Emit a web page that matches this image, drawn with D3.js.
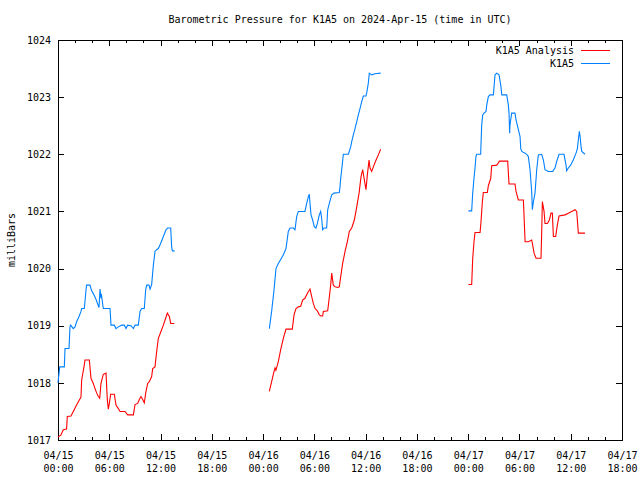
<!DOCTYPE html>
<html><head><meta charset="utf-8">
<script src="https://cdn.jsdelivr.net/npm/d3@7"></script>
<style>
html,body{margin:0;padding:0;background:#fff;}
svg text{font-family:"DejaVu Sans Mono","Liberation Mono",monospace;font-size:10px;fill:#000;}
</style></head>
<body><svg id="c" width="640" height="480"></svg>
<script>
const titleText = "Barometric Pressure for K1A5 on 2024-Apr-15 (time in UTC)";
const yLabel = "milliBars";
const seriesNames = ["K1A5 Analysis", "K1A5"];
const seriesColors = ["#ff0000", "#0080ff"];
const yTicks = [1017,1018,1019,1020,1021,1022,1023,1024];
const startTime = Date.UTC(2024,3,15,0,0);
const endTime = Date.UTC(2024,3,17,18,0);

// [hours since 2024-04-15 00:00 UTC, mb]
const analysis1 = [[0,1017.05],[0.35,1017.09],[0.62,1017.18],[1.0,1017.19],[1.09,1017.41],[1.52,1017.42],[1.79,1017.5],[2.07,1017.58],[2.38,1017.67],[2.69,1017.75],[2.77,1018.05],[3.04,1018.28],[3.16,1018.4],[3.67,1018.4],[3.86,1018.08],[4.13,1017.99],[4.33,1017.9],[4.53,1017.82],[4.72,1017.76],[4.88,1017.73],[5.03,1017.99],[5.3,1018.15],[5.62,1018.17],[5.77,1017.71],[5.89,1017.54],[6.01,1017.64],[6.16,1017.8],[6.59,1017.8],[6.79,1017.61],[7.06,1017.55],[7.26,1017.5],[7.84,1017.5],[8.15,1017.44],[8.82,1017.44],[9.01,1017.62],[9.32,1017.64],[9.52,1017.71],[9.71,1017.76],[9.91,1017.71],[10.1,1017.65],[10.26,1017.82],[10.49,1017.99],[10.69,1018.02],[10.96,1018.11],[11.08,1018.25],[11.35,1018.28],[11.55,1018.55],[11.74,1018.78],[12.05,1018.9],[12.33,1019.01],[12.6,1019.13],[12.79,1019.22],[13.03,1019.16],[13.19,1019.04],[13.61,1019.04]];
const analysis2 = [[24.73,1017.85],[25.0,1018.02],[25.28,1018.2],[25.4,1018.26],[25.5,1018.22],[25.78,1018.37],[26.06,1018.58],[26.37,1018.78],[26.68,1018.94],[27.42,1018.94],[27.62,1019.19],[27.85,1019.3],[28.12,1019.33],[28.4,1019.34],[28.63,1019.45],[28.9,1019.48],[29.1,1019.54],[29.3,1019.6],[29.49,1019.64],[29.69,1019.51],[29.88,1019.39],[30.08,1019.3],[30.35,1019.26],[30.58,1019.19],[30.78,1019.17],[30.97,1019.17],[31.05,1019.25],[31.56,1019.26],[31.71,1019.45],[31.91,1019.71],[32.03,1019.92],[32.22,1019.71],[32.42,1019.68],[32.73,1019.67],[32.92,1019.68],[33.08,1019.86],[33.31,1020.09],[33.59,1020.3],[33.86,1020.47],[34.09,1020.65],[34.37,1020.71],[34.68,1020.85],[34.96,1021.08],[35.23,1021.32],[35.46,1021.61],[35.66,1021.73],[35.85,1021.55],[36.04,1021.38],[36.2,1021.64],[36.4,1021.9],[36.51,1021.76],[36.71,1021.7],[36.9,1021.78],[37.22,1021.9],[37.49,1021.99],[37.76,1022.09]];
const analysis3 = [[48.02,1019.72],[48.41,1019.72],[48.53,1020.18],[48.68,1020.47],[48.8,1020.63],[49.39,1020.63],[49.5,1020.82],[49.66,1021.17],[49.77,1021.33],[50.24,1021.33],[50.36,1021.45],[50.64,1021.58],[50.75,1021.8],[51.34,1021.81],[51.53,1021.85],[51.65,1021.88],[52.62,1021.88],[52.78,1021.48],[53.48,1021.48],[53.6,1021.35],[53.87,1021.2],[54.46,1021.2],[54.66,1020.47],[55.05,1020.47],[55.43,1020.5],[55.55,1020.41],[55.71,1020.27],[55.94,1020.18],[56.52,1020.18],[56.6,1020.62],[56.68,1021.17],[56.88,1021.0],[56.99,1020.79],[57.27,1020.79],[57.5,1020.85],[57.69,1020.97],[57.85,1020.97],[57.97,1020.56],[58.24,1020.56],[58.43,1020.76],[58.63,1020.92],[59.33,1020.94],[59.72,1020.97],[60.11,1021.0],[60.5,1021.03],[60.7,1021.0],[60.89,1020.62],[61.67,1020.62]];
const station1 = [[0,1018.0],[0.2,1018.28],[0.74,1018.28],[0.82,1018.6],[1.29,1018.6],[1.4,1018.98],[1.48,1019.01],[1.79,1018.95],[1.99,1018.98],[2.18,1019.07],[2.46,1019.16],[2.69,1019.25],[2.77,1019.3],[3.08,1019.3],[3.28,1019.63],[3.35,1019.71],[3.74,1019.71],[3.94,1019.61],[4.21,1019.54],[4.45,1019.46],[4.64,1019.38],[4.8,1019.32],[4.92,1019.64],[5.03,1019.48],[5.07,1019.56],[5.3,1019.3],[6.09,1019.3],[6.2,1019.01],[6.59,1019.01],[6.79,1018.95],[7.06,1018.98],[7.45,1019.01],[7.76,1019.01],[7.96,1018.95],[8.15,1019.01],[8.54,1019.0],[8.82,1018.95],[9.01,1019.01],[9.4,1019.01],[9.6,1019.25],[9.79,1019.3],[10.1,1019.3],[10.26,1019.63],[10.38,1019.71],[10.65,1019.71],[10.77,1019.64],[10.96,1019.72],[11.16,1020.06],[11.35,1020.3],[11.55,1020.33],[11.74,1020.35],[12.01,1020.44],[12.33,1020.56],[12.64,1020.68],[12.83,1020.71],[13.19,1020.71],[13.3,1020.38],[13.38,1020.31],[13.65,1020.31]];
const station2 = [[24.73,1018.95],[25.0,1019.25],[25.28,1019.63],[25.51,1020.0],[25.78,1020.09],[26.06,1020.16],[26.37,1020.24],[26.68,1020.35],[26.95,1020.65],[27.15,1020.71],[27.54,1020.71],[27.73,1020.68],[27.93,1020.91],[28.12,1021.0],[28.9,1021.0],[29.1,1021.14],[29.3,1021.26],[29.41,1021.3],[29.49,1021.14],[29.61,1020.94],[29.8,1020.85],[30.0,1020.73],[30.19,1020.71],[30.35,1020.79],[30.58,1020.94],[30.74,1021.0],[30.85,1020.88],[30.97,1020.68],[31.13,1020.71],[31.44,1020.71],[31.56,1021.03],[31.75,1021.14],[32.03,1021.29],[32.3,1021.32],[32.92,1021.33],[33.0,1021.43],[33.08,1021.58],[33.2,1021.73],[33.39,1022.0],[33.98,1022.0],[34.25,1022.13],[34.37,1022.22],[34.56,1022.34],[34.76,1022.45],[34.96,1022.57],[35.15,1022.69],[35.34,1022.8],[35.54,1022.92],[35.73,1023.02],[36.04,1023.02],[36.12,1023.07],[36.31,1023.24],[36.43,1023.42],[36.71,1023.39],[37.1,1023.41],[37.76,1023.42]];
const station3 = [[48.02,1021.01],[48.41,1021.01],[48.53,1021.32],[48.68,1021.58],[48.8,1021.76],[48.91,1021.96],[48.99,1022.0],[49.46,1022.0],[49.58,1022.51],[49.7,1022.69],[49.85,1022.72],[50.09,1022.75],[50.17,1022.86],[50.36,1023.01],[50.56,1023.04],[50.95,1023.04],[51.14,1023.39],[51.34,1023.42],[51.61,1023.39],[51.81,1023.21],[51.93,1023.04],[52.51,1023.04],[52.7,1022.86],[52.78,1022.72],[52.85,1022.37],[52.89,1022.51],[53.09,1022.72],[53.48,1022.72],[53.6,1022.6],[53.87,1022.43],[54.07,1022.31],[54.15,1022.1],[54.27,1022.05],[54.66,1022.02],[54.85,1022.0],[55.04,1021.96],[55.24,1021.73],[55.43,1021.35],[55.51,1021.03],[55.63,1021.17],[55.82,1021.32],[56.02,1021.73],[56.21,1021.99],[56.6,1022.0],[56.8,1021.9],[56.99,1021.73],[57.38,1021.7],[57.89,1021.7],[58.16,1021.76],[58.35,1021.87],[58.63,1022.0],[59.21,1022.0],[59.45,1021.81],[59.52,1021.71],[59.72,1021.76],[59.99,1021.81],[60.3,1021.9],[60.62,1022.02],[60.78,1022.1],[60.89,1022.25],[61.01,1022.4],[61.09,1022.32],[61.21,1022.13],[61.29,1022.05],[61.67,1022.0]];

const analysisSegments = [analysis1, analysis2, analysis3];
const stationSegments = [station1, station2, station3];

const L = 58, R = 622, T = 40, B = 440;
const svg = d3.select("#c");
const x = d3.scaleUtc().domain([new Date(startTime), new Date(endTime)]).range([L, R]);
const y = d3.scaleLinear().domain([1017, 1024]).range([B, T]);
const toDate = h => new Date(startTime + h * 3600e3);

function styleAxis(g){
  g.select(".domain").remove();
  g.selectAll("line").attr("stroke","#000").attr("stroke-width",1).attr("shape-rendering","crispEdges");
  g.selectAll("text").attr("font-family",null).attr("font-size",null).attr("fill","#000");
}

// minor x ticks
svg.append("g").attr("transform",`translate(0,${B})`)
  .call(d3.axisBottom(x).ticks(d3.utcHour.every(2)).tickSize(-3).tickFormat(""))
  .call(styleAxis);
svg.append("g").attr("transform",`translate(0,${T})`)
  .call(d3.axisTop(x).ticks(d3.utcHour.every(2)).tickSize(-3).tickFormat(""))
  .call(styleAxis);
// major x ticks
const fmtD = d3.utcFormat("%m/%d"), fmtT = d3.utcFormat("%H:%M");
const xb = svg.append("g").attr("transform",`translate(0,${B})`)
  .call(d3.axisBottom(x).ticks(d3.utcHour.every(6)).tickSize(-6).tickPadding(12).tickFormat(""))
  .call(styleAxis);
xb.selectAll(".tick text").each(function(d){
  const t = d3.select(this).attr("dy",null).attr("y",19);
  t.append("tspan").attr("x",0).attr("y",19).text(fmtD(d));
  t.append("tspan").attr("x",0).attr("y",32).text(fmtT(d));
});
svg.append("g").attr("transform",`translate(0,${T})`)
  .call(d3.axisTop(x).ticks(d3.utcHour.every(6)).tickSize(-6).tickFormat(""))
  .call(styleAxis);
// y ticks
svg.append("g").attr("transform",`translate(${L},0)`)
  .call(d3.axisLeft(y).tickValues(yTicks).tickSize(-6).tickPadding(7).tickFormat(d3.format("d")))
  .call(styleAxis);
svg.append("g").attr("transform",`translate(${R},0)`)
  .call(d3.axisRight(y).tickValues(yTicks).tickSize(-6).tickFormat(""))
  .call(styleAxis);

// border
svg.append("rect").attr("x",L+0.5).attr("y",T+0.5).attr("width",R-L).attr("height",B-T)
  .attr("fill","none").attr("stroke","#000").attr("stroke-width",1);

// lines
const line = d3.line().x(d => x(toDate(d[0]))).y(d => y(d[1]));
[analysisSegments, stationSegments].forEach((segs, i) => {
  segs.forEach(seg => {
    svg.append("path").datum(seg).attr("d", line)
      .attr("fill","none").attr("stroke",seriesColors[i]).attr("stroke-width",1.1);
  });
});

// title
svg.append("text").attr("x",(L+R)/2).attr("y",23).attr("text-anchor","middle").text(titleText);
// y label
svg.append("text").attr("transform","translate(15,240) rotate(-90)").attr("text-anchor","middle").text(yLabel);

// legend
seriesNames.forEach((name, i) => {
  const ly = 50 + i * 13;
  svg.append("text").attr("x",574).attr("y",ly+4).attr("text-anchor","end").text(name);
  svg.append("line").attr("x1",581).attr("x2",610).attr("y1",ly+0.5).attr("y2",ly+0.5)
    .attr("stroke",seriesColors[i]).attr("stroke-width",1);
});
</script></body></html>
